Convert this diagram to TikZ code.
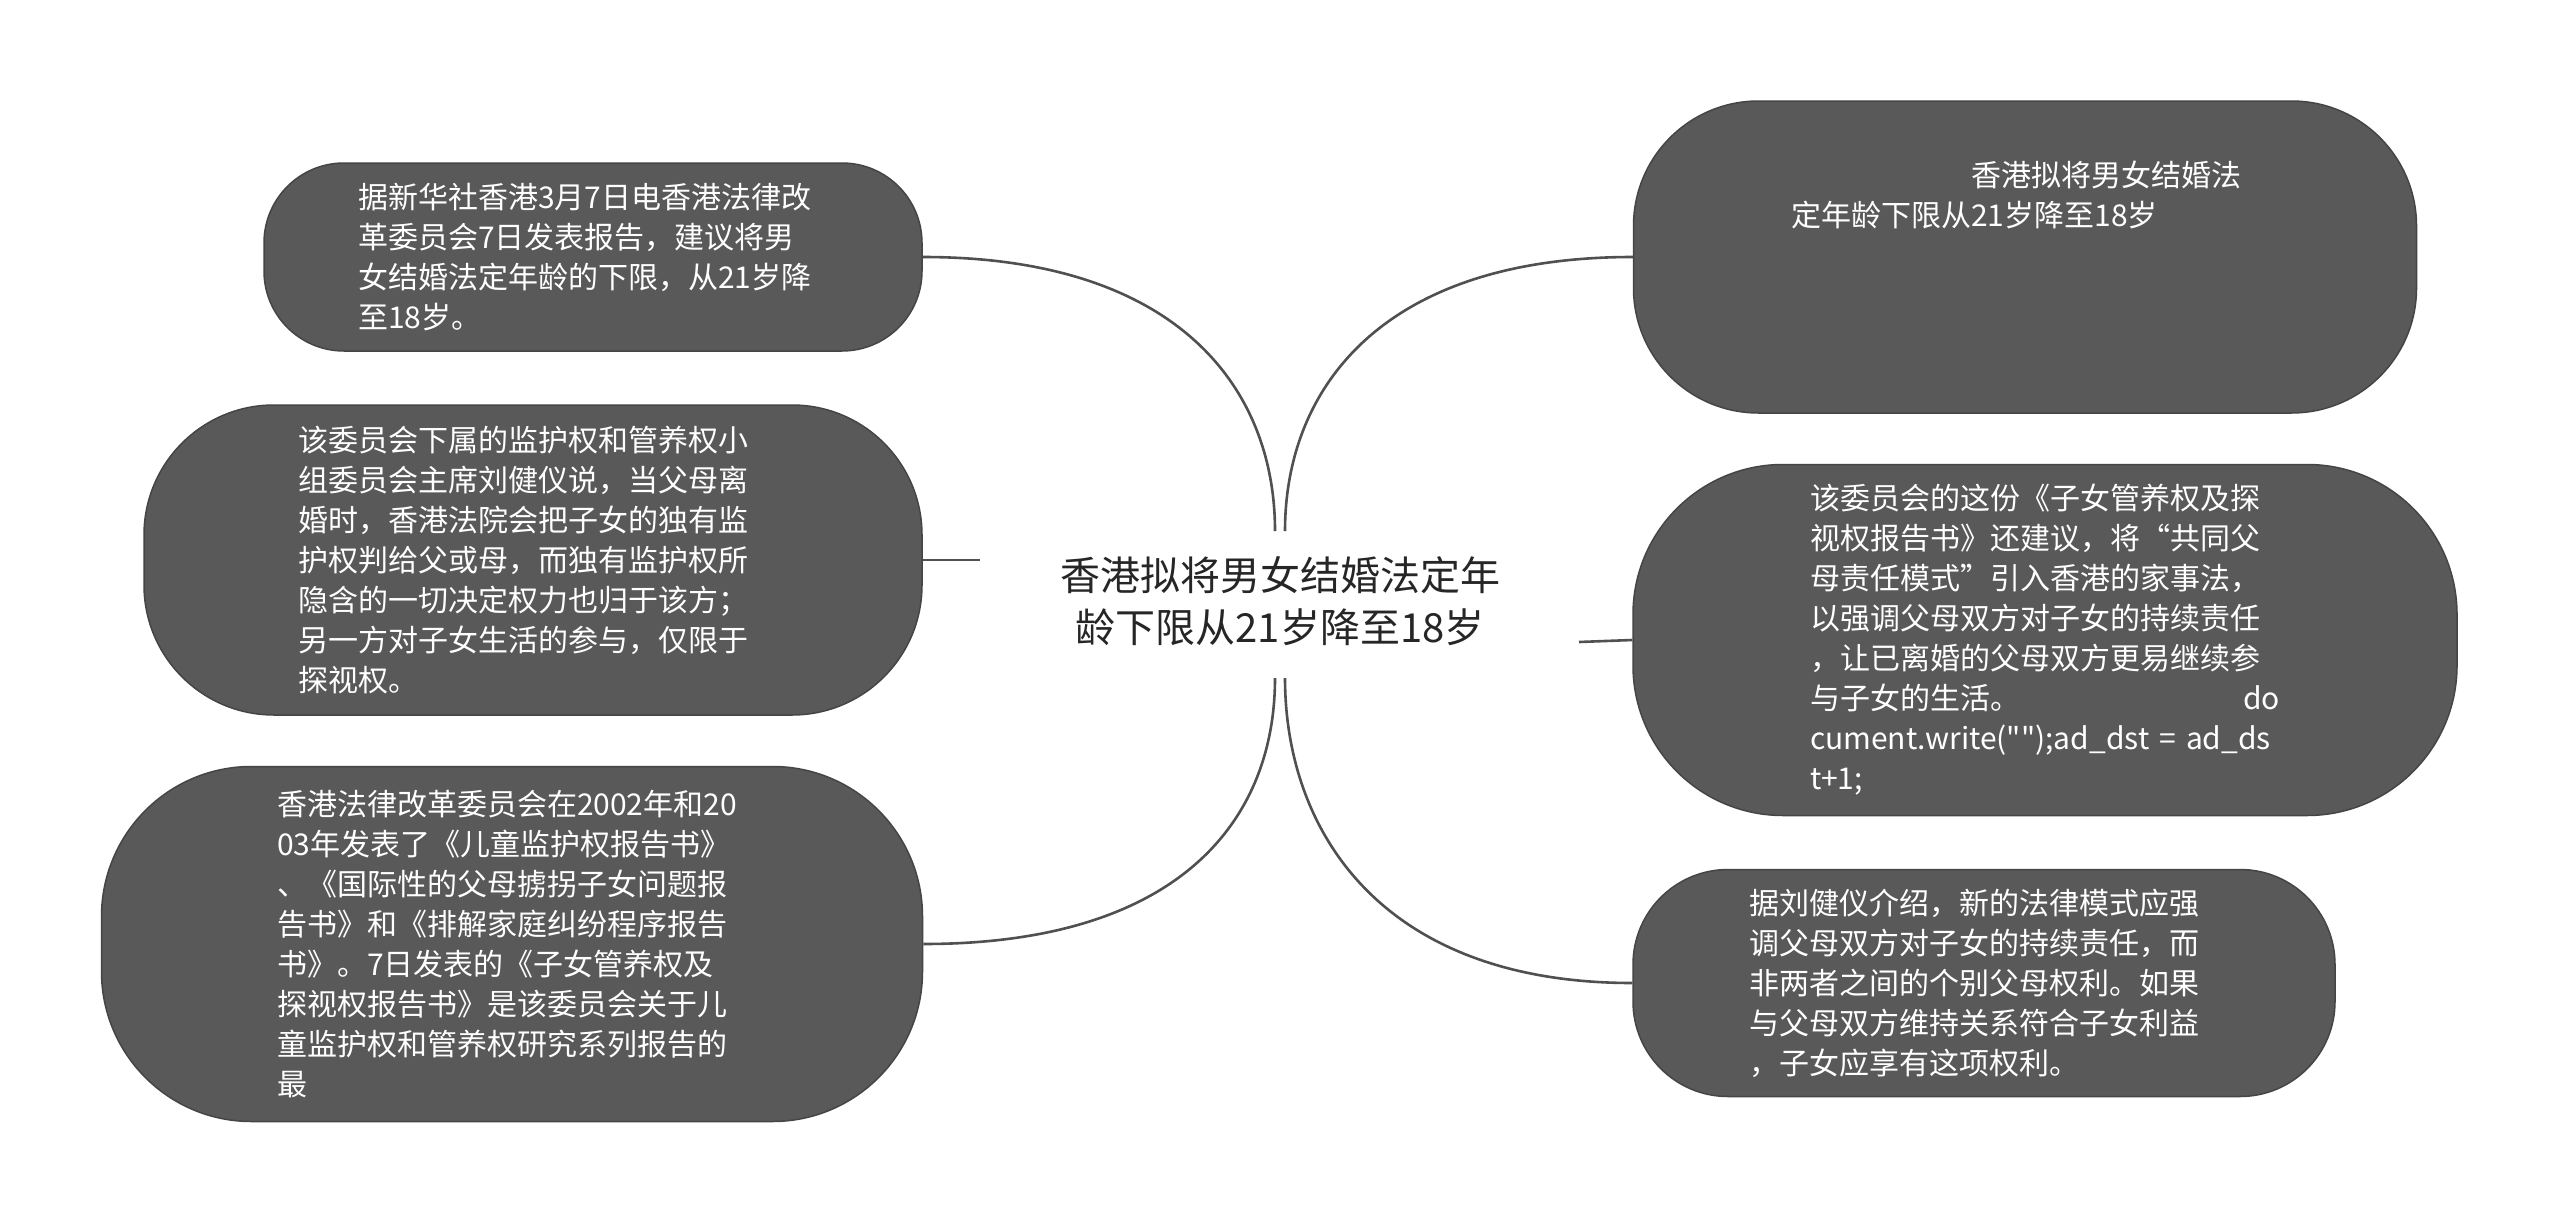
\documentclass[tikz,border=0pt]{standalone}
\usepackage{fontspec}
\setmainfont{Noto Sans CJK SC}
\newfontfamily\codefont{Noto Sans CJK SC}[Ligatures=TeXOff]
\definecolor{boxgray}{HTML}{595959}
\definecolor{boxedge}{HTML}{454545}
\definecolor{linkgray}{HTML}{505050}
\definecolor{titlecol}{HTML}{262626}
\begin{document}
\begin{tikzpicture}[x=1pt,y=-1pt,
  bubble/.style={fill=boxgray,draw=boxedge,line width=1.5pt,text=white,
    align=left,text width=470pt,inner sep=0pt,
    font=\fontsize{30pt}{40pt}\selectfont},
  link/.style={draw=linkgray,line width=2.6pt}]
\useasboundingbox[fill=white] (0,0) rectangle (2560,1223);
% centre
\node[text=titlecol,align=center,inner sep=0pt,
  font=\fontsize{40pt}{52pt}\selectfont] (c) at (1280,601)
  {香港拟将男女结婚法定年\\龄下限从21岁降至18岁};
\coordinate (ctl) at (1275,531);
\coordinate (ctr) at (1285,531);
\coordinate (cbl) at (1275,678);
\coordinate (cbr) at (1285,678);
\coordinate (cml) at (980,560);
\coordinate (cmr) at (1579,642);
% left bubbles
\node[bubble,minimum width=658pt,minimum height=188pt,rounded corners=80pt] (l1) at (593,257)
  {据新华社香港3月7日电香港法律改\\革委员会7日发表报告，建议将男\\女结婚法定年龄的下限，从21岁降\\至18岁。};
\node[bubble,minimum width=778pt,minimum height=310pt,rounded corners=130pt] (l2) at (533,560)
  {该委员会下属的监护权和管养权小\\组委员会主席刘健仪说，当父母离\\婚时，香港法院会把子女的独有监\\护权判给父或母，而独有监护权所\\隐含的一切决定权力也归于该方；\\另一方对子女生活的参与，仅限于\\探视权。};
\node[bubble,minimum width=821pt,minimum height=355pt,rounded corners=150pt] (l3) at (512,944)
  {香港法律改革委员会在2002年和20\\03年发表了《儿童监护权报告书》\\、《国际性的父母掳拐子女问题报\\告书》和《排解家庭纠纷程序报告\\书》。7日发表的《子女管养权及\\探视权报告书》是该委员会关于儿\\童监护权和管养权研究系列报告的\\最};
% right bubbles
\node[bubble,text width=700pt,minimum width=783pt,minimum height=312pt,rounded corners=125pt] (r1) at (2025,257) {};
\node[text=white,align=left,inner sep=0pt,anchor=north west,
  font=\fontsize{30pt}{40pt}\selectfont] (r1t) at (1791,161)
  {\hspace*{180pt}香港拟将男女结婚法\\定年龄下限从21岁降至18岁};
\node[bubble,minimum width=824pt,minimum height=351pt,rounded corners=150pt] (r2) at (2045,640)
  {该委员会的这份《子女管养权及探\\视权报告书》还建议，将“共同父\\母责任模式”引入香港的家事法，\\以强调父母双方对子女的持续责任\\，让已离婚的父母双方更易继续参\\与子女的生活。\hfill do\\\mbox{\codefont cument.write("");ad\_dst = ad\_ds}\\{\codefont t+1;}};
\node[bubble,minimum width=702pt,minimum height=227pt,rounded corners=95pt] (r3) at (1984,983)
  {据刘健仪介绍，新的法律模式应强\\调父母双方对子女的持续责任，而\\非两者之间的个别父母权利。如果\\与父母双方维持关系符合子女利益\\，子女应享有这项权利。};
% connectors
\draw[link] (ctl) .. controls (1275,390) and (1180,257) .. (l1.east);
\draw[link] (cbl) .. controls (1275,820) and (1180,944) .. (l3.east);
\draw[link] (ctr) .. controls (1285,390) and (1380,257) .. (r1.west);
\draw[link] (cbr) .. controls (1285,830) and (1380,983) .. (r3.west);
\draw[link] (l2.east) -- (cml);
\draw[link] (cmr) -- (r2.west);
\end{tikzpicture}
\end{document}
